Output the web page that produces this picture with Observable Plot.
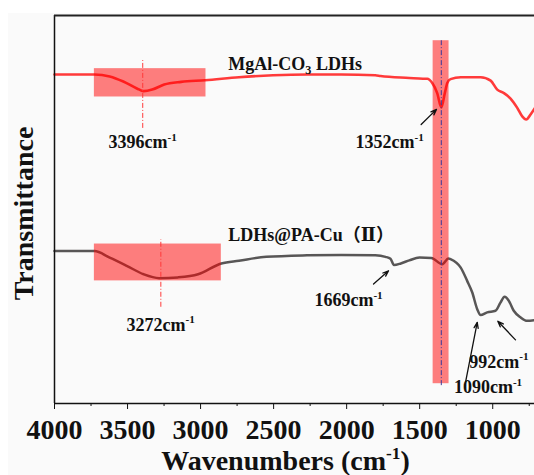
<!DOCTYPE html>
<html><head><meta charset="utf-8">
<script src="https://cdn.jsdelivr.net/npm/d3@7"></script>
<script src="https://cdn.jsdelivr.net/npm/@observablehq/plot@0.6"></script>
<style>
html,body{margin:0;padding:0;background:#fff;}
#chart svg{display:block;background:linear-gradient(#fafafa,#fafafa) no-repeat 8px 13px / 100% 100%, #fff !important;}
</style></head><body><div id="chart"></div>
<script>
// ---- data ----
const xTicks = [4000, 3500, 3000, 2500, 2000, 1500, 1000];
const xMinorTicks = [3750, 3250, 2750, 2250, 1750, 1250, 750];

// MgAl-CO3 LDHs (upper, red)
const redWn = [4000,3727,3622,3529,3436,3390,3331,3249,3133,2969,2737,2503,2271,2037,1804,1768,1571,1478,1448,1414,1380,1352,1328,1311,1289,1219,1083,1014,969,924,878,832,798,771,741,714];
const redT  = [84.8,84.8,84.3,83.0,81.2,80.5,80.9,82.2,82.9,83.3,84.1,84.6,84.8,84.8,84.6,84.4,83.9,83.7,83.7,82.6,80.0,76.3,80.0,82.6,83.6,84.1,84.1,83.2,80.9,80.0,78.6,76.2,74.0,73.2,74.5,76.0];

// LDHs@PA-Cu(II) (lower, grey)
const grayWn = [4000,3727,3622,3506,3390,3284,3156,3017,2858,2737,2550,2271,2037,1804,1734,1700,1676,1629,1571,1501,1420,1345,1303,1289,1219,1175,1140,1106,1083,1038,981,947,919,890,856,810,764,714];
const grayT  = [39.3,39.3,37.6,35.5,33.3,32.3,32.5,33.3,36.1,36.8,37.8,38.2,38.3,38.2,37.8,37.3,35.7,36.1,36.9,37.6,37.5,35.9,37.4,37.2,35.0,31.6,28.6,24.3,22.8,23.5,23.9,26.0,27.5,26.5,23.9,22.2,21.3,21.5];

// highlighted regions
const hlX1 = [3727, 3727, 1408];
const hlX2 = [2963, 2858, 1299];
const hlLo = [79.0, 31.6, 5.1];
const hlHi = [86.3, 41.1, 93.5];

// peak guide lines
const peakX  = [3396, 3272];
const peakLo = [70.9, 24.8];
const peakHi = [88.4, 42.2];
const bandX = [1352], bandLo = [4.6], bandHi = [93.5];

// peak labels
const labelText = ["3396cm⁻¹", "1352cm⁻¹", "3272cm⁻¹", "1669cm⁻¹", "1090cm⁻¹"];
const labelX = [3396, 1706, 3273, 1987, 1032];
const labelY = [67.3, 67.3, 20.3, 26.5, 4.1];
const label2Text = ["992cm⁻¹"];
const label2X = [1160];
const label2Y = [10.7];

// series names
const seriesText = ["MgAl-CO₃ LDHs", "LDHs@PA-Cu（Ⅱ）"];
const seriesX = [2810, 2810];
const seriesY = [87.5, 43.4];

// arrows
const arrX1 = [1490, 1816, 844, 1186];
const arrY1 = [71.9, 30.8, 16.4, 5.5];
const arrX2 = [1385, 1713, 965, 1106];
const arrY2 = [75.8, 34.2, 21.2, 20.9];

// ---- build tables ----
const red = redWn.map((w, i) => ({w, t: redT[i]}));
const gray = grayWn.map((w, i) => ({w, t: grayT[i]}));
const hl = hlX1.map((v, i) => ({x1: v, x2: hlX2[i], y1: hlLo[i], y2: hlHi[i]}));
const peaks = peakX.map((v, i) => ({x: v, y1: peakLo[i], y2: peakHi[i]}));
const band = bandX.map((v, i) => ({x: v, y1: bandLo[i], y2: bandHi[i]}));
const labels = labelText.map((s, i) => ({s, x: labelX[i], y: labelY[i]}));
const labels2 = label2Text.map((s, i) => ({s, x: label2X[i], y: label2Y[i]}));
const series = seriesText.map((s, i) => ({s, x: seriesX[i], y: seriesY[i]}));
const arrows = arrX1.map((v, i) => ({x1: v, y1: arrY1[i], x2: arrX2[i], y2: arrY2[i]}));

const FONT = "'Liberation Serif', 'Times New Roman', 'DejaVu Serif', 'Noto Sans CJK SC', serif";

const chart = Plot.plot({
  width: 534,
  height: 475,
  marginLeft: 54,
  marginRight: 0,
  marginTop: 15,
  marginBottom: 72,
  style: {fontFamily: FONT, fontWeight: "bold", color: "#111", overflow: "visible"},
  x: {domain: [4000, 714], axis: null},
  y: {domain: [0, 100], axis: null},
  marks: [
    // curves
    Plot.line(red, {x: "w", y: "t", stroke: "#ff3a3a", strokeWidth: 2.6, curve: "monotone-x"}),
    Plot.line(gray, {x: "w", y: "t", stroke: "#585656", strokeWidth: 2.5, curve: "monotone-x"}),
    // highlight rectangles (translucent, over the curves)
    Plot.rect(hl, {x1: "x1", x2: "x2", y1: "y1", y2: "y2", fill: "#ff0000", fillOpacity: 0.5}),
    // guide lines
    Plot.ruleX(peaks, {x: "x", y1: "y1", y2: "y2", stroke: "#ff3a3a", strokeWidth: 1, strokeDasharray: "5,2,1,2"}),
    Plot.ruleX(band, {x: "x", y1: "y1", y2: "y2", stroke: "#3a3a9a", strokeWidth: 1, strokeDasharray: "5,2,1,2"}),
    // frame
    Plot.ruleX([4000], {stroke: "#111", strokeWidth: 1.5}),
    Plot.ruleY([100], {stroke: "#222", strokeWidth: 2}),
    Plot.ruleY([0], {stroke: "#111", strokeWidth: 1.5}),
    // axis
    Plot.axisX({ticks: xMinorTicks, tickSize: 3, tickFormat: () => "", label: null, stroke: "#111"}),
    Plot.axisX({ticks: xTicks, tickSize: 6, tickPadding: 10, tickFormat: d => String(d), fontSize: 28, fontWeight: "bold", label: null, stroke: "#111", fill: "#111"}),
    // axis titles
    Plot.text(["Wavenumbers (cm⁻¹)"], {frameAnchor: "bottom", dx: -9, dy: 58, fontSize: 28, fontWeight: "bold", fill: "#111", textAnchor: "middle", lineAnchor: "middle"}),
    Plot.text(["Transmittance"], {frameAnchor: "left", dx: -30, dy: 4, rotate: -90, fontSize: 28, fontWeight: "bold", fill: "#111", textAnchor: "middle", lineAnchor: "middle"}),
    // arrows
    Plot.arrow(arrows, {x1: "x1", y1: "y1", x2: "x2", y2: "y2", stroke: "#111", strokeWidth: 1.3, headLength: 7, headAngle: 40}),
    // labels
    Plot.text(labels, {x: "x", y: "y", text: "s", fontSize: 18, fontWeight: "bold", fill: "#111", textAnchor: "middle", lineAnchor: "middle"}),
    Plot.text(labels2, {x: "x", y: "y", text: "s", fontSize: 18, fontWeight: "bold", fill: "#111", textAnchor: "start", lineAnchor: "middle"}),
    Plot.text(series, {x: "x", y: "y", text: "s", fontSize: 18, fontWeight: "bold", fill: "#111", textAnchor: "start", lineAnchor: "middle"})
  ]
});
document.getElementById("chart").appendChild(chart);

// turn unicode super/subscripts into real shifted tspans (text stays text)
const NS = "http://www.w3.org/2000/svg";
chart.querySelectorAll("text").forEach(t => {
  const s = t.textContent;
  if (!/[⁻¹₃]/.test(s) || t.children.length) return;
  const fs = parseFloat(getComputedStyle(t).fontSize) || 18;
  const parts = s.split(/(⁻¹|₃)/).filter(p => p);
  t.textContent = "";
  let carry = 0;
  for (const p of parts) {
    const ts = document.createElementNS(NS, "tspan");
    if (p === "⁻¹") {
      ts.textContent = "-1";
      const d = -0.42 * fs;
      ts.setAttribute("dy", d - carry);
      carry = d;
      ts.setAttribute("font-size", 0.62 * fs);
    } else if (p === "₃") {
      ts.textContent = "3";
      const d = 0.22 * fs;
      ts.setAttribute("dy", d - carry);
      carry = d;
      ts.setAttribute("font-size", 0.68 * fs);
    } else {
      ts.textContent = p;
      if (carry) { ts.setAttribute("dy", -carry); carry = 0; }
    }
    t.appendChild(ts);
  }
});
</script></body></html>
